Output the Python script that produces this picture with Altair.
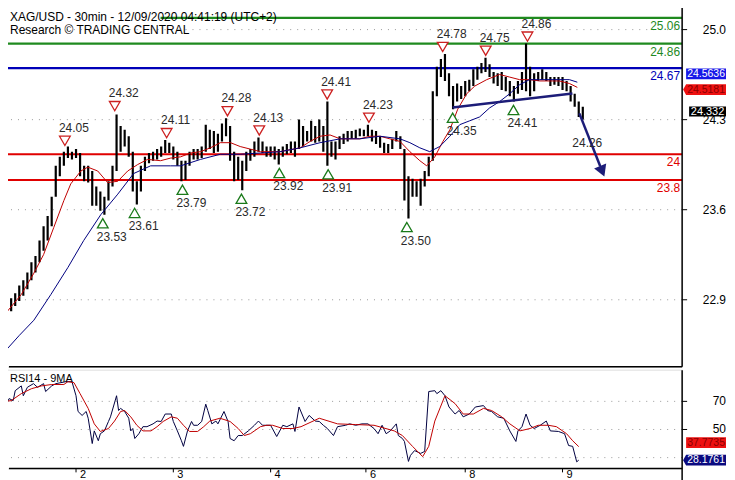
import altair as alt
import pandas as pd

# ---------------- price bars (30-min bar index, high, low) ----------------
bar_index = list(range(4, 288, 2))
bar_high = [
    22.88, 22.92, 22.98, 23.02, 23.08, 23.16, 23.21, 23.33, 23.44, 23.52,
    23.67, 23.91, 23.98, 24.02, 24.06, 24.02, 24.04, 24.01, 23.91, 23.91,
    23.87, 23.75, 23.71, 23.67, 23.79, 23.91, 24.31, 24.22, 24.19, 24.14,
    24.02, 23.79, 23.91, 23.98, 24.01, 24.02, 24.04, 24.06, 24.11, 24.09,
    24.06, 24.02, 23.95, 23.95, 24.02, 24.04, 24.04, 24.06, 24.23, 24.19,
    24.18, 24.16, 24.24, 24.28, 24.22, 24.02, 23.98, 23.95, 24.02, 24.04,
    24.10, 24.13, 24.10, 24.06, 24.06, 24.06, 24.04, 24.06, 24.08, 24.10,
    24.10, 24.27, 24.22, 24.18, 24.26, 24.22, 24.27, 24.22, 24.41, 24.10,
    24.10, 24.14, 24.16, 24.18, 24.18, 24.19, 24.20, 24.19, 24.23, 24.19,
    24.18, 24.14, 24.09, 24.08, 24.12, 24.18, 24.14, 24.04, 23.83, 23.81,
    23.79, 23.81, 23.87, 23.98, 24.49, 24.68, 24.74, 24.78, 24.63, 24.53,
    24.55, 24.53, 24.57, 24.58, 24.66, 24.68, 24.71, 24.75, 24.70, 24.64,
    24.63, 24.64, 24.60, 24.57, 24.53, 24.57, 24.64, 24.86, 24.68, 24.63,
    24.64, 24.66, 24.64, 24.60, 24.60, 24.60, 24.60, 24.57, 24.53, 24.47,
    24.41, 24.37]
bar_low = [
    22.78, 22.82, 22.86, 22.90, 22.95, 23.02, 23.08, 23.16, 23.25, 23.33,
    23.44, 23.67, 23.83, 23.91, 23.97, 23.96, 23.97, 23.83, 23.79, 23.78,
    23.60, 23.60, 23.56, 23.53, 23.64, 23.75, 23.87, 24.02, 24.06, 23.98,
    23.71, 23.61, 23.71, 23.87, 23.93, 23.95, 23.96, 23.98, 24.01, 24.01,
    23.96, 23.91, 23.79, 23.80, 23.91, 23.96, 23.96, 23.97, 24.02, 24.04,
    24.01, 24.02, 24.10, 24.14, 23.95, 23.79, 23.80, 23.72, 23.87, 23.95,
    23.98, 24.02, 24.01, 23.98, 23.98, 23.96, 23.92, 23.98, 24.00, 24.01,
    23.98, 24.04, 24.06, 24.10, 24.10, 24.09, 24.10, 24.02, 23.91, 23.98,
    23.96, 24.04, 24.08, 24.10, 24.12, 24.12, 24.14, 24.14, 24.14, 24.10,
    24.08, 24.05, 24.01, 24.01, 24.04, 24.10, 24.04, 23.64, 23.50, 23.67,
    23.67, 23.60, 23.75, 23.83, 23.95, 24.45, 24.60, 24.57, 24.45, 24.35,
    24.41, 24.43, 24.45, 24.49, 24.53, 24.58, 24.63, 24.64, 24.60, 24.55,
    24.53, 24.50, 24.49, 24.45, 24.41, 24.47, 24.50, 24.49, 24.45, 24.49,
    24.57, 24.58, 24.57, 24.53, 24.54, 24.53, 24.50, 24.49, 24.41, 24.37,
    24.29, 24.27]

# ---------------- moving averages on price ----------------
ma_fast_x = [-1, 9, 15, 20, 25, 30, 33.4, 38.4, 41.8, 46.7,
             51.6, 56.6, 61.5, 66.4, 71.3, 77.7, 82.6, 87.6, 92.5, 97.4,
             102.3, 107.2, 112.2, 117, 122, 127, 136.7, 146.6, 151.5, 156.4,
             161.3, 166.3, 171.2, 176, 181, 186, 190.8, 195.8, 200.7, 205.6,
             209, 213, 217, 220.4, 224.3, 228.7, 232.7, 238.6, 244.9, 249.9,
             254.8, 259.7, 264.6, 269.5, 274.4, 279.4, 283.3]
ma_fast_v = [22.72, 22.91, 23.07, 23.22, 23.43, 23.64, 23.77, 23.87, 23.90, 23.87,
             23.78, 23.79, 23.87, 23.92, 23.96, 23.95, 23.97, 23.98, 24.01, 24.02,
             24.05, 24.09, 24.09, 24.06, 24.04, 24.02, 24.02, 24.05, 24.10, 24.14,
             24.15, 24.12, 24.12, 24.12, 24.14, 24.14, 24.12, 24.10, 24.02, 23.95,
             23.91, 23.98, 24.10, 24.19, 24.35, 24.47, 24.53, 24.58, 24.62, 24.60,
             24.58, 24.58, 24.57, 24.57, 24.57, 24.55, 24.52]
ma_slow_x = [0.5, 7.9, 15.2, 23.6, 32, 39.8, 48.2, 56.6, 64.4, 72.8, 82.6, 87.6,
             97.4, 107.2, 117, 127, 136.7, 146.6, 156.4, 166.3, 176, 186,
             195.8, 200.7, 205.6, 210.5, 215.4, 220.4, 225.3, 230.2, 235.1, 240,
             245, 249.9, 254.8, 259.7, 264.6, 274.4, 279.4, 283.3]
ma_slow_v = [22.46, 22.59, 22.71, 22.91, 23.12, 23.33, 23.53, 23.69, 23.85, 23.91, 23.91, 23.91,
             23.96, 24.00, 24.00, 24.01, 24.02, 24.05, 24.09, 24.12, 24.12, 24.14,
             24.12, 24.09, 24.05, 24.02, 24.06, 24.14, 24.23, 24.26, 24.29, 24.36,
             24.41, 24.47, 24.54, 24.58, 24.58, 24.58, 24.58, 24.56]

# ---------------- horizontal levels ----------------
level_values = [25.06, 24.86, 24.67, 24.00, 23.80]
level_text = ["25.06", "24.86", "24.67", "24", "23.8"]
level_start = [77.7, 1, -1, -1, -1]
level_group = ["green", "green", "blue", "red", "red"]

# ---------------- swing highs / lows ----------------
res_x = [30.5, 55.1, 80.7, 110.7, 126.4, 159.9, 180.5, 216.9, 238.1, 258.7]
res_v = [24.05, 24.32, 24.11, 24.28, 24.13, 24.41, 24.23, 24.78, 24.75, 24.86]
sup_x = [49.2, 64.9, 88.5, 117.6, 136.3, 160.4, 199.2, 221.8, 251.8]
sup_v = [23.53, 23.61, 23.79, 23.72, 23.92, 23.91, 23.50, 24.35, 24.41]
target_x = [283.8]
target_v = [24.26]

neck_x = [221.8, 280.9]
neck_v = [24.364, 24.473]
arrow_x = [284.3, 294.6]
arrow_v = [24.318, 23.907]
head_x = [295.6]
head_v = [23.868]

# ---------------- RSI ----------------
rsi_x = [1, 3, 5, 6, 9, 10, 12, 15, 17, 20, 21, 24, 26, 31, 34, 36, 37, 39, 41, 42,
         44, 45, 47, 48, 50, 52, 53, 56, 57, 58, 60, 62, 63, 64, 65, 67, 69, 71, 74, 76,
         78, 80, 83, 84, 86, 88, 89, 91, 93, 94, 96, 98, 100, 101, 103, 105, 106, 109, 111, 112,
         114, 116, 118, 121, 124, 126, 128, 132, 135, 138, 140, 143, 144, 146, 149, 151, 154, 156, 158, 160,
         163, 165, 169, 171, 174, 177, 180, 183, 185, 187, 189, 191, 194, 195, 197, 198, 200, 201, 203, 206,
         208, 210, 213, 214, 216, 218, 220, 223, 225, 227, 230, 233, 237, 239, 241, 244, 247, 250, 253, 254,
         256, 258, 260, 262, 265, 268, 270, 274, 277, 279, 281, 283, 284]
rsi_v = [66, 72, 70.5, 77.6, 81, 74, 80, 82.6, 80, 82.6, 77, 81, 82.6, 84, 84, 74, 62.8, 60, 62.8, 58,
         40, 49, 42, 47, 49, 55.7, 59, 74, 63.5, 65, 62.8, 58, 49, 50.7, 43.6, 47, 52, 52, 54, 56,
         55.7, 61, 61, 55.7, 49, 42, 38, 49, 55.7, 53, 53, 55.7, 68, 63.5, 54, 56, 54, 62.8, 55.7, 43.6,
         42, 45.7, 45.7, 49, 53, 56, 53, 53, 45, 53, 52, 54, 48.6, 66, 55.7, 60, 56, 55.7, 53, 50.7,
         45.7, 52, 53, 54, 53, 54, 54, 50.7, 47, 53, 47, 49, 54, 45.7, 43.6, 41.5, 27.3, 31.6, 35, 33,
         34.4, 77, 77.6, 75.5, 77.6, 74, 66, 61, 63.5, 59, 61, 66, 67, 63.5, 62.8, 59, 58, 49, 41.5, 49,
         52, 61, 53, 50.7, 53, 56, 49, 48.6, 47, 38.6, 38, 27, 28.2]
rsi_ma_x = [0, 4, 9, 14, 19, 24, 30, 32, 35, 38, 42, 45, 48, 52, 55, 58, 60, 63, 66, 69,
            73, 76, 79, 83, 86, 89, 92, 96, 99, 102, 107, 112, 116, 119, 122, 127, 130, 133, 138, 143,
            147, 156, 165, 174, 183, 193, 197, 202, 207, 210, 213, 218, 223, 227, 232, 237, 241, 246, 250, 255,
            260, 264, 269, 273, 278, 281, 284]
rsi_ma_v = [69.9, 70.5, 75.5, 79, 81, 82, 82, 84, 83.3, 75.5, 65, 54, 48.6, 50.7, 56, 62.8, 63.5, 59, 53, 49,
            49, 52, 55.7, 59, 58, 53, 48.6, 48.6, 52, 56, 58, 55.7, 50.7, 45.7, 47, 52, 53, 53, 50.7, 50.7,
            52, 58, 54, 53.5, 53, 49, 45.7, 38, 30.7, 38, 56, 74, 68.4, 61, 61, 65, 63.5, 59, 54, 49,
            50.7, 53, 53, 52, 47, 42, 37.8]

# ---------------- axes / tags ----------------
day_ticks = [36, 84, 132, 179, 228, 276]
day_labels = ["2", "3", "4", "6", "8", "9"]
price_ticks = [25.0, 24.3, 23.6, 22.9]
rsi_ticks = [70, 50]
rsi_grid = [70, 50, 30]

last_close = 24.332
fast_last = 24.5181
slow_last = 24.5636
rsi_last = 28.1761
rsi_ma_last = 37.7735

title_1 = "XAG/USD - 30min - 12/09/2020 04:41:19 (UTC+2)"
title_2 = "Research \u00a9 TRADING CENTRAL"

# ---------------- layout ----------------
# The drawing origin is pulled 8px up/left (negative padding) so the panels sit where the
# source has them; everything is kept within 727 x 480 so the svg (719 x 472) fits the page.
W = 683
H_MAIN = 366
H_RSI = 99
RIGHT = 727
FONT = "Liberation Sans"
TICK_SHIFT = 4  # price-axis ticks sit a little below the level grid in the source

xs = alt.Scale(domain=[-1, 335], nice=False, zero=False)
ys = alt.Scale(domain=[22.349, 25.186], nice=False, zero=False)
rs = alt.Scale(domain=[22.34, 92.55], nice=False, zero=False)

RED = "#e00000"
GREEN = "#1f8a1f"
BLUE = "#0000b8"
NAVY = "#1c1c78"

df_bars = pd.DataFrame({"b": bar_index, "high": bar_high, "low": bar_low})
df_fast = pd.DataFrame({"b": ma_fast_x, "v": ma_fast_v})
df_slow = pd.DataFrame({"b": ma_slow_x, "v": ma_slow_v})
df_lev = pd.DataFrame({"v": level_values, "t": level_text, "s": level_start,
                       "e": [335] * len(level_values), "g": level_group})
df_res = pd.DataFrame({"b": res_x, "v": res_v})
df_sup = pd.DataFrame({"b": sup_x, "v": sup_v})
df_tgt = pd.DataFrame({"b": target_x, "v": target_v})
df_neck = pd.DataFrame({"b": neck_x, "v": neck_v})
df_arrow = pd.DataFrame({"b": arrow_x, "v": arrow_v})
df_head = pd.DataFrame({"b": head_x, "v": head_v})
df_ptick = pd.DataFrame({"v": price_ticks})
one_row = pd.DataFrame({"k": [0]})

Xb = alt.X("b:Q", scale=xs, axis=None)


def Yv(field="v:Q", scale=ys):
    return alt.Y(field, scale=scale, axis=None)


def frame(height, extend):
    right = alt.Chart(one_row).mark_rule(color="#000000", strokeWidth=1.5).encode(
        x=alt.value(W), y=alt.value(0.5), y2=alt.value(height + extend))
    bottom = alt.Chart(one_row).mark_rule(color="#000000", strokeWidth=1.5).encode(
        x=alt.value(8), x2=alt.value(W), y=alt.value(height))
    return right + bottom


grid = alt.Chart(df_ptick).mark_rule(color="#9a9a9a", strokeDash=[1, 6], strokeWidth=1,
                                     yOffset=TICK_SHIFT).encode(y=Yv())
pticks = alt.Chart(df_ptick).mark_rule(color="#000000", strokeWidth=1, yOffset=TICK_SHIFT).encode(
    x=alt.value(W), x2=alt.value(W + 5), y=Yv())
plabels = alt.Chart(df_ptick).mark_text(align="right", baseline="middle", fontSize=12, font=FONT,
                                        color="#000000", dy=TICK_SHIFT).encode(
    x=alt.value(RIGHT), y=Yv(), text=alt.Text("v:Q", format=".1f"))

col_scale = alt.Scale(domain=["green", "blue", "red"], range=[GREEN, BLUE, RED])
txt_scale = alt.Scale(domain=["green", "blue", "red"], range=["#3c9c3c", "#2c2ca0", "#e03030"])
levels = alt.Chart(df_lev).mark_rule(strokeWidth=2.2, clip=True).encode(
    x=alt.X("s:Q", scale=xs, axis=None), x2="e:Q", y=Yv(),
    color=alt.Color("g:N", scale=col_scale, legend=None))
level_lbl = alt.Chart(df_lev).mark_text(align="right", baseline="middle", fontSize=12, font=FONT, dy=8).encode(
    x=alt.value(W - 2), y=Yv(), text="t:N",
    color=alt.Color("g:N", scale=txt_scale, legend=None))

candles = alt.Chart(df_bars).mark_rule(color="#000000", strokeWidth=2.2, clip=True).encode(
    x=Xb, y=Yv("low:Q"), y2="high:Q")

fast = alt.Chart(df_fast).mark_line(color="#c00000", strokeWidth=1, clip=True).encode(x=Xb, y=Yv())
slow = alt.Chart(df_slow).mark_line(color="#000080", strokeWidth=1, clip=True).encode(x=Xb, y=Yv())
neck = alt.Chart(df_neck).mark_line(color=NAVY, strokeWidth=2.5).encode(x=Xb, y=Yv())
arrow = alt.Chart(df_arrow).mark_line(color=NAVY, strokeWidth=2.5).encode(x=Xb, y=Yv())
head = alt.Chart(df_head).mark_point(shape="triangle-down", angle=338, size=170, filled=True,
                                     color=NAVY, opacity=1).encode(x=Xb, y=Yv())

res_tri = alt.Chart(df_res).mark_point(shape="triangle-down", size=115, filled=True, fill="white",
                                       stroke="#cc2020", strokeWidth=1.3, opacity=1, yOffset=-7).encode(x=Xb, y=Yv())
res_lbl = alt.Chart(df_res).mark_text(fontSize=12, font=FONT, color="#2a2a2a", dx=9, dy=-20).encode(
    x=Xb, y=Yv(), text=alt.Text("v:Q", format=".2f"))
sup_tri = alt.Chart(df_sup).mark_point(shape="triangle-up", size=115, filled=True, fill="white",
                                       stroke="#1a7a1a", strokeWidth=1.3, opacity=1, yOffset=8.5).encode(x=Xb, y=Yv())
sup_lbl = alt.Chart(df_sup).mark_text(fontSize=12, font=FONT, color="#2a2a2a", dx=9, dy=22).encode(
    x=Xb, y=Yv(), text=alt.Text("v:Q", format=".2f"))
tgt_lbl = alt.Chart(df_tgt).mark_text(fontSize=12, font=FONT, color="#2a2a2a", dx=9, dy=22).encode(
    x=Xb, y=Yv(), text=alt.Text("v:Q", format=".2f"))

t1 = alt.Chart(pd.DataFrame({"t": [title_1]})).mark_text(
    align="left", baseline="middle", fontSize=12, font=FONT, color="#000000").encode(
    x=alt.value(9), y=alt.value(15), text="t:N")
t2 = alt.Chart(pd.DataFrame({"t": [title_2]})).mark_text(
    align="left", baseline="middle", fontSize=12, font=FONT, color="#000000").encode(
    x=alt.value(9), y=alt.value(28), text="t:N")

BOX = "M-1,-0.27L1,-0.27L1,0.27L-1,0.27Z"
BOX_ARROW = "M-1,-0.27L1,-0.27L1,0.27L-1,0.27L-1.15,0Z"


def tag(value, yscale, fill, tcolor, shape, width, shift, fmt, fsize):
    xc = RIGHT - width / 2
    d = pd.DataFrame({"v": [value]})
    box = alt.Chart(d).mark_point(shape=shape, size=width * width, filled=True, color=fill,
                                  opacity=1, yOffset=shift).encode(
        x=alt.value(xc), y=alt.Y("v:Q", scale=yscale, axis=None))
    txt = alt.Chart(d).mark_text(fontSize=fsize, font=FONT, color=tcolor, dy=shift, align="center",
                                 baseline="middle").encode(
        x=alt.value(xc), y=alt.Y("v:Q", scale=yscale, axis=None), text=alt.Text("v:Q", format=fmt))
    return box + txt


tags_main = (tag(slow_last, ys, "#1818e8", "#ffffff", BOX, 40, -8, ".4f", 10.5)
             + tag(fast_last, ys, "#ee1111", "#8a0000", BOX_ARROW, 40, 2, ".4f", 10.5)
             + tag(last_close, ys, "#000000", "#ffffff", BOX, 37, 0, ".3f", 11))

main = alt.layer(grid, levels, candles, fast, slow, neck, arrow, head, res_tri, res_lbl,
                 sup_tri, sup_lbl, tgt_lbl, level_lbl, t1, t2, frame(H_MAIN, 0), pticks, plabels,
                 tags_main).properties(width=W, height=H_MAIN)

# ---------------- RSI panel ----------------
df_rsi = pd.DataFrame({"b": rsi_x, "v": rsi_v})
df_rsi_ma = pd.DataFrame({"b": rsi_ma_x, "v": rsi_ma_v})
df_rgrid = pd.DataFrame({"v": rsi_grid})
df_rtick = pd.DataFrame({"v": rsi_ticks})
df_day = pd.DataFrame({"b": day_ticks, "t": day_labels})

rgrid = alt.Chart(df_rgrid).mark_rule(color="#9a9a9a", strokeDash=[1, 6], strokeWidth=1).encode(
    y=alt.Y("v:Q", scale=rs, axis=None))
rline = alt.Chart(df_rsi).mark_line(color="#000040", strokeWidth=1, clip=True).encode(
    x=Xb, y=alt.Y("v:Q", scale=rs, axis=None))
rma = alt.Chart(df_rsi_ma).mark_line(color="#c00000", strokeWidth=1, clip=True).encode(
    x=Xb, y=alt.Y("v:Q", scale=rs, axis=None))
rsi_title = alt.Chart(pd.DataFrame({"t": ["RSI14 - 9MA"]})).mark_text(
    align="left", baseline="middle", fontSize=11, font=FONT, color="#000000").encode(
    x=alt.value(9), y=alt.value(9), text="t:N")
rticks = alt.Chart(df_rtick).mark_rule(color="#000000", strokeWidth=1).encode(
    x=alt.value(W), x2=alt.value(W + 5), y=alt.Y("v:Q", scale=rs, axis=None))
rlabels = alt.Chart(df_rtick).mark_text(align="right", baseline="middle", fontSize=12, font=FONT,
                                        color="#000000").encode(
    x=alt.value(RIGHT), y=alt.Y("v:Q", scale=rs, axis=None), text=alt.Text("v:Q", format="d"))
dticks = alt.Chart(df_day).mark_rule(color="#000000", strokeWidth=1).encode(
    x=Xb, y=alt.value(H_RSI), y2=alt.value(H_RSI + 4))
dlabels = alt.Chart(df_day).mark_text(align="left", baseline="middle", fontSize=11, font=FONT,
                                      color="#000000", dx=4).encode(
    x=Xb, y=alt.value(H_RSI + 6.5), text="t:N")

tags_rsi = (tag(rsi_ma_last, rs, "#ee1111", "#8a0000", BOX, 40, -4, ".4f", 10.5)
            + tag(rsi_last, rs, "#0a0a80", "#ffffff", BOX_ARROW, 40, 0, ".4f", 10.5))

rsi = alt.layer(rgrid, rline, rma, rsi_title, frame(H_RSI, 13), rticks, rlabels, dticks, dlabels,
                tags_rsi).properties(width=W, height=H_RSI)

chart = alt.vconcat(main, rsi, spacing=0).properties(
    padding={"left": -8, "top": -8, "right": 0, "bottom": 0}
).configure_view(stroke=None).configure(background="white", font=FONT)

chart.save("out.html", embed_options={"renderer": "svg", "actions": False})
